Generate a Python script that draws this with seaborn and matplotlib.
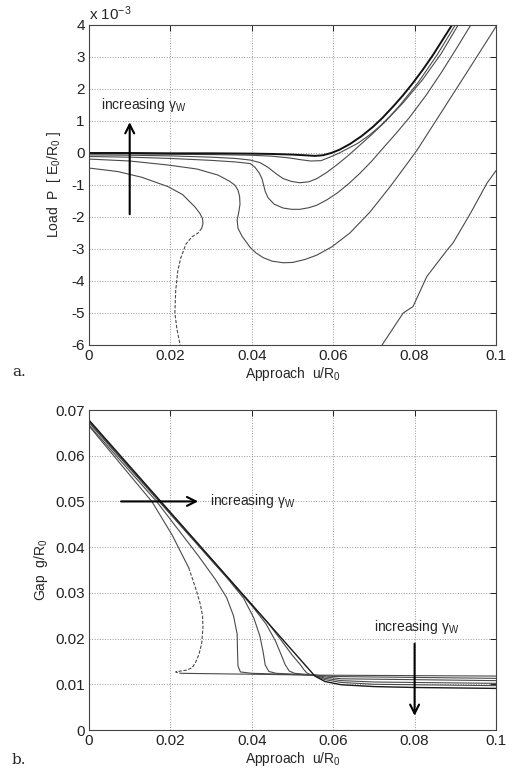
import matplotlib
matplotlib.use("Agg")
import matplotlib.pyplot as plt
import seaborn as sns
import numpy as np
import pandas as pd

# ---------------- data: panel a (load P in units of 1e-3 E0/R0) ----------------
a1_u = [0, 0.01, 0.02, 0.03, 0.04, 0.045, 0.05, 0.053, 0.0555, 0.0575, 0.0595, 0.0615, 0.0641, 0.067, 0.0698, 0.0722, 0.0747, 0.0772, 0.0796, 0.082, 0.0845, 0.0868, 0.0892]
a1_p = [0.0, 0.0, -0.01, -0.01, -0.02, -0.03, -0.05, -0.07, -0.09, -0.07, 0.0, 0.1, 0.28, 0.53, 0.82, 1.11, 1.45, 1.81, 2.19, 2.6, 3.06, 3.52, 4.0]
a2_u = [0, 0.01, 0.02, 0.03, 0.04, 0.045, 0.049, 0.052, 0.0545, 0.057, 0.059, 0.0615, 0.066, 0.0688, 0.0715, 0.0738, 0.0761, 0.0808, 0.0855, 0.0900]
a2_p = [-0.03, -0.03, -0.04, -0.05, -0.07, -0.1, -0.15, -0.21, -0.25, -0.24, -0.14, 0.0, 0.3, 0.55, 0.84, 1.13, 1.45, 2.19, 3.06, 4.0]
a3_u = [0, 0.01, 0.02, 0.03, 0.036, 0.0396, 0.042, 0.044, 0.046, 0.0477, 0.0498, 0.0518, 0.054, 0.056, 0.0585, 0.061, 0.0635, 0.0658, 0.0695, 0.0728, 0.0774, 0.0820, 0.0865, 0.0907]
a3_p = [-0.06, -0.07, -0.09, -0.13, -0.17, -0.22, -0.3, -0.45, -0.65, -0.8, -0.89, -0.93, -0.9, -0.8, -0.6, -0.36, -0.1, 0.16, 0.58, 0.98, 1.6, 2.3, 3.1, 4.0]
a4_u = [0, 0.01, 0.02, 0.03, 0.036, 0.0396, 0.0408, 0.0418, 0.0425, 0.0429, 0.0433, 0.0440, 0.0455, 0.0477, 0.0498, 0.0518, 0.054, 0.056, 0.0585, 0.061, 0.0638, 0.0666, 0.0695, 0.0723, 0.0755, 0.0788, 0.0828, 0.0866, 0.0903, 0.0938]
a4_p = [-0.11, -0.13, -0.17, -0.23, -0.28, -0.33, -0.45, -0.62, -0.8, -1.0, -1.2, -1.4, -1.6, -1.72, -1.76, -1.76, -1.71, -1.63, -1.46, -1.25, -0.96, -0.63, -0.25, 0.16, 0.62, 1.12, 1.8, 2.52, 3.27, 4.0]
a5_u = [0, 0.01, 0.0194, 0.0265, 0.0317, 0.0345, 0.0358, 0.0366, 0.037, 0.0371, 0.0368, 0.0364, 0.0366, 0.0376, 0.0396, 0.041, 0.0428, 0.045, 0.0477, 0.050, 0.053, 0.056, 0.0597, 0.0641, 0.069, 0.074, 0.0775, 0.0806, 0.0862, 0.093, 0.1]
a5_p = [-0.19, -0.25, -0.375, -0.5, -0.69, -0.88, -1.0, -1.16, -1.35, -1.6, -1.85, -2.09, -2.35, -2.6, -2.95, -3.12, -3.27, -3.38, -3.43, -3.42, -3.33, -3.19, -2.93, -2.5, -1.85, -1.05, -0.45, 0.09, 1.2, 2.55, 3.95]
a6_u = [0, 0.0071, 0.013, 0.0194, 0.023, 0.026, 0.0272, 0.0279, 0.028, 0.0277]
a6_p = [-0.47, -0.58, -0.76, -1.05, -1.3, -1.68, -1.88, -2.05, -2.2, -2.35]
a6d_u = [0.0277, 0.0268, 0.0253, 0.0238, 0.0225, 0.0218, 0.0213, 0.0211, 0.0216, 0.0224, 0.0228]
a6d_p = [-2.35, -2.5, -2.62, -2.85, -3.3, -3.7, -4.3, -5.0, -5.5, -6.0, -6.3]
a6r_u = [0.0712, 0.072, 0.0772, 0.0796, 0.083, 0.088, 0.0895, 0.0937, 0.0978, 0.1]
a6r_p = [-6.3, -6.0, -5.0, -4.8, -3.86, -3.03, -2.8, -1.89, -0.94, -0.55]

# ---------------- data: panel b (gap g/R0) ----------------
b1_u = [0, 0.0555, 0.058, 0.062, 0.07, 0.08, 0.1]
b1_g = [0.0678, 0.0118, 0.0106, 0.0099, 0.0095, 0.0093, 0.0091]
b2_u = [0, 0.044, 0.0475, 0.05, 0.052, 0.0528, 0.0535, 0.0545, 0.0555, 0.058, 0.062, 0.07, 0.1]
b2_g = [0.0676, 0.0234, 0.0193, 0.0163, 0.0142, 0.0132, 0.0125, 0.0121, 0.0119, 0.0110, 0.0104, 0.0100, 0.0097]
b3_u = [0, 0.040, 0.0435, 0.0458, 0.0472, 0.0482, 0.0492, 0.0505, 0.0555, 0.058, 0.062, 0.07, 0.1]
b3_g = [0.0674, 0.0272, 0.0232, 0.0195, 0.0165, 0.0143, 0.0129, 0.0124, 0.0120, 0.0113, 0.0108, 0.0105, 0.0102]
b4_u = [0, 0.034, 0.038, 0.0405, 0.042, 0.0428, 0.0433, 0.0442, 0.046, 0.0555, 0.058, 0.062, 0.1]
b4_g = [0.0672, 0.0332, 0.0288, 0.0245, 0.0205, 0.0170, 0.0142, 0.0128, 0.0124, 0.0120, 0.0116, 0.0112, 0.0108]
b5_u = [0, 0.0166, 0.0267, 0.031, 0.0338, 0.0355, 0.0364, 0.0365, 0.0366, 0.0372, 0.040, 0.0555, 0.06, 0.1]
b5_g = [0.0667, 0.050, 0.0383, 0.0330, 0.0290, 0.0250, 0.0210, 0.0170, 0.0140, 0.0127, 0.0124, 0.0120, 0.0117, 0.0113]
b6_u = [0, 0.0155, 0.0204, 0.0229, 0.0245]
b6_g = [0.0665, 0.0499, 0.0427, 0.0383, 0.0355]
b6d_u = [0.0245, 0.0262, 0.0273, 0.0279, 0.0280, 0.0277, 0.0270, 0.0262, 0.0253, 0.0240, 0.0225, 0.0213, 0.0225]
b6d_g = [0.0355, 0.031, 0.0277, 0.025, 0.0225, 0.019, 0.0165, 0.0148, 0.0136, 0.0131, 0.0129, 0.0127, 0.0124]
b6r_u = [0.0225, 0.040, 0.0555, 0.1]
b6r_g = [0.0124, 0.0122, 0.0120, 0.0118]

x_ticks = [0, 0.02, 0.04, 0.06, 0.08, 0.1]
x_ticklabels = ["0", "0.02", "0.04", "0.06", "0.08", "0.1"]
ya_ticks = [-6, -5, -4, -3, -2, -1, 0, 1, 2, 3, 4]
yb_ticks = [0, 0.01, 0.02, 0.03, 0.04, 0.05, 0.06, 0.07]
yb_ticklabels = ["0", "0.01", "0.02", "0.03", "0.04", "0.05", "0.06", "0.07"]

sns.set_theme(style="white")
plt.rcParams["font.family"] = ["Liberation Sans", "DejaVu Sans"]
plt.rcParams["mathtext.fontset"] = "custom"
plt.rcParams["mathtext.rm"] = "Liberation Sans"
plt.rcParams["mathtext.it"] = "Liberation Sans"
plt.rcParams["mathtext.bf"] = "Liberation Sans:bold"

fig = plt.figure(figsize=(5.07, 7.71), dpi=100)
axA = fig.add_axes([89 / 507, 1 - 345 / 771, 407 / 507, 320 / 771])
axB = fig.add_axes([89 / 507, 1 - 730 / 771, 407 / 507, 320 / 771])

GRAY = "#4a4a4a"

def draw(ax, u, v, color=GRAY, lw=0.8, ls="-"):
    df = pd.DataFrame({"u": u, "v": v})
    sns.lineplot(data=df, x="u", y="v", sort=False, estimator=None, ax=ax,
                 color=color, lw=lw, linestyle=ls)

# panel a
draw(axA, a6_u, a6_p)
draw(axA, a6d_u, a6d_p, ls=(0, (3, 1.5)))
draw(axA, a6r_u, a6r_p)
draw(axA, a5_u, a5_p)
draw(axA, a4_u, a4_p)
draw(axA, a3_u, a3_p)
draw(axA, a2_u, a2_p)
draw(axA, a1_u, a1_p, color="#111111", lw=1.4)

# panel b
draw(axB, b6_u, b6_g)
draw(axB, b6d_u, b6d_g, ls=(0, (3, 1.5)))
draw(axB, b6r_u, b6r_g)
draw(axB, b5_u, b5_g)
draw(axB, b4_u, b4_g)
draw(axB, b3_u, b3_g)
draw(axB, b2_u, b2_g)
draw(axB, b1_u, b1_g, color="#1a1a1a", lw=1.0)

for ax in (axA, axB):
    ax.set_xlim(0, 0.1)
    ax.set_xticks(x_ticks)
    ax.set_xticklabels(x_ticklabels)
    ax.grid(True, linestyle=":", color="#9a9a9a", linewidth=0.7)
    ax.tick_params(direction="in", length=4, width=0.7, top=True, right=True,
                   labelsize=11, pad=3, colors="#222222")
    for s in ax.spines.values():
        s.set_color("#444444")
        s.set_linewidth(0.8)
    ax.set_xlabel(r"Approach  u/R$_0$", fontsize=10, labelpad=1)

axA.set_ylim(-6, 4)
axA.set_yticks(ya_ticks)
axA.set_yticklabels([str(t) for t in ya_ticks])
axA.set_ylabel(r"Load  P  [ E$_0$/R$_0$ ]", fontsize=10, labelpad=6)
axA.text(0.0, 1.005, r"x 10$^{-3}$", transform=axA.transAxes, ha="left", va="bottom", fontsize=11)

axB.set_ylim(0, 0.07)
axB.set_yticks(yb_ticks)
axB.set_yticklabels(yb_ticklabels)
axB.set_ylabel(r"Gap  g/R$_0$", fontsize=10, labelpad=4)

# annotations
arrowkw = dict(arrowstyle="->", color="black", lw=1.5, mutation_scale=16)
axA.annotate("", xy=(0.01, 1.05), xytext=(0.01, -2.0), arrowprops=arrowkw)
axA.text(0.003, 1.22, r"increasing $\gamma_{\mathrm{W}}$", fontsize=10, ha="left", va="bottom")

axB.annotate("", xy=(0.0275, 0.050), xytext=(0.0072, 0.050), arrowprops=arrowkw)
axB.text(0.0298, 0.050, r"increasing $\gamma_{\mathrm{W}}$", fontsize=10, ha="left", va="center")
axB.annotate("", xy=(0.08, 0.0025), xytext=(0.08, 0.0195), arrowprops=arrowkw)
axB.text(0.0805, 0.0205, r"increasing $\gamma_{\mathrm{W}}$", fontsize=10, ha="center", va="bottom")

fig.text(12 / 507, 1 - 372 / 771, "a.", fontsize=11, family="DejaVu Serif", va="center")
fig.text(12 / 507, 1 - 760 / 771, "b.", fontsize=11, family="DejaVu Serif", va="center")

fig.savefig("out.png", dpi=100)
